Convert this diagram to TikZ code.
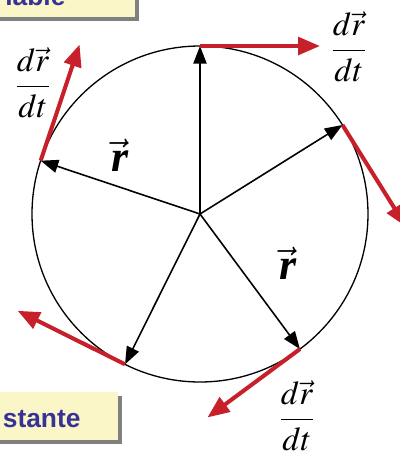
\documentclass[tikz,border=0pt]{standalone}
\usepackage{amsmath}
\usepackage{mathptmx}
\usepackage{fontspec}
\setmainfont{Liberation Serif}
\newfontfamily\boxfont{Liberation Sans}
\usepackage{tikz}
\usetikzlibrary{arrows.meta,calc,positioning}

\definecolor{vecred}{RGB}{200,32,42}
\definecolor{boxyellow}{RGB}{251,246,200}
\definecolor{boxblue}{RGB}{55,50,150}
\definecolor{boxshadow}{RGB}{128,128,128}

\begin{document}
\begin{tikzpicture}[
  radius vec/.style={draw=black, line width=0.9pt, -{Triangle[length=10pt,width=7.5pt]}},
  tangent vec/.style={draw=vecred, line width=2.3pt, -{Triangle[length=12.5pt,width=10pt]}},
  deriv/.style={font=\fontsize{19}{22}\selectfont},
  rlabel/.style={font=\fontsize{25}{28}\selectfont},
  boxtext/.style={font=\boxfont\bfseries\fontsize{15}{18}\selectfont, text=boxblue, inner sep=0pt}
]
\useasboundingbox (-4,-4.8) rectangle (4,4.28);
\clip (-4,-4.8) rectangle (4,4.28);

% info boxes (cut by the frame)
\fill[boxshadow] (-4.2,3.86) rectangle (-1.22,4.5);
\fill[boxyellow] (-4.3,3.94) rectangle (-1.3,4.5);
\node[boxtext, anchor=base west] (var) at (-3.9,4.18) {iable};
\fill[boxshadow] (-4.2,-4.6) rectangle (-1.56,-3.64);
\fill[boxyellow] (-4.3,-4.52) rectangle (-1.64,-3.56);
\node[boxtext, anchor=base west] (cst) at (-3.95,-4.26) {stante};

% circle and radius vectors
\coordinate (O) at (0,0);
\draw[line width=0.75pt] (O) circle (3.36);
\coordinate (p1) at (90:3.36);
\coordinate (p2) at (32:3.36);
\coordinate (p3) at (161.5:3.36);
\coordinate (p4) at (243.5:3.36);
\coordinate (p5) at (-53.5:3.36);
\draw[radius vec] (O) -- (p1);
\draw[radius vec] (O) -- (p2);
\draw[radius vec] (O) -- (p3);
\draw[radius vec] (O) -- (p4);
\draw[radius vec] (O) -- (p5);

% tangent (velocity) vectors
\coordinate (t1) at ($(p1)+(0:2.4)$);
\coordinate (t2) at ($(p2)+(-58:2.4)$);
\coordinate (t3) at ($(p3)+(71.5:2.45)$);
\coordinate (t4) at ($(p4)+(153.5:2.4)$);
\coordinate (t5) at ($(p5)+(-143.5:2.3)$);
\draw[tangent vec] (p1) -- (t1);
\draw[tangent vec] (p2) -- (t2);
\draw[tangent vec] (p3) -- (t3);
\draw[tangent vec] (p4) -- (t4);
\draw[tangent vec] (p5) -- (t5);

% labels
\node[deriv] (d1) at (2.98,3.34) {$\dfrac{d\vec{r}}{dt}$};
\node[deriv] (d2) at (-3.34,2.62) {$\dfrac{d\vec{r}}{dt}$};
\node[deriv] (d3) at (1.94,-4.04) {$\dfrac{d\vec{r}}{dt}$};
\node[rlabel] (r1) at (-1.6,1.18) {$\vec{\textbf{\textit{r}}}$};
\node[rlabel] (r2) at (1.76,-0.98) {$\vec{\textbf{\textit{r}}}$};
\end{tikzpicture}
\end{document}
